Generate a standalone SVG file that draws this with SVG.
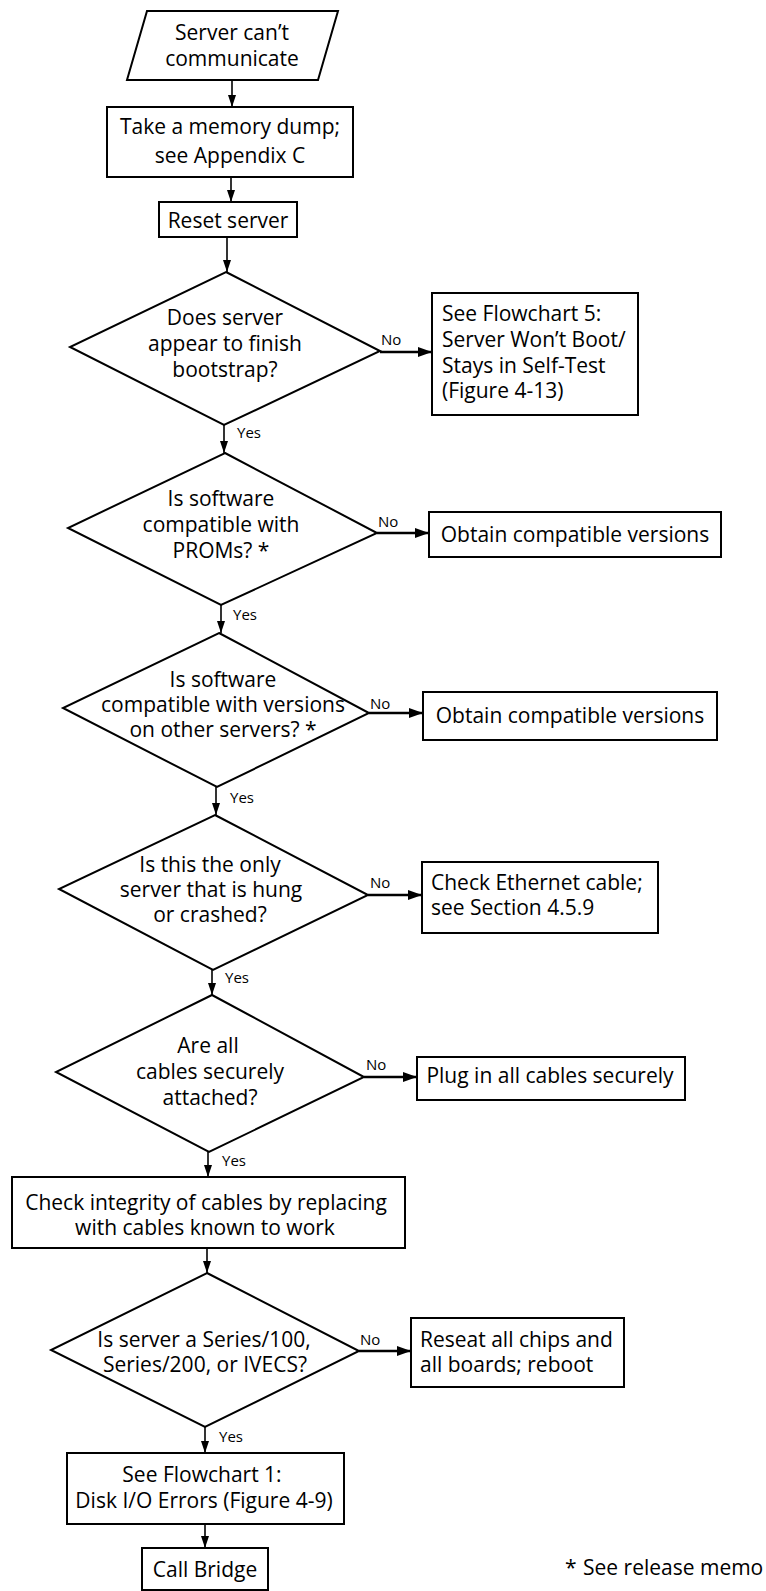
<svg xmlns="http://www.w3.org/2000/svg" width="766" height="1591" viewBox="0 0 766 1591">
<defs>
<marker id="ah" markerUnits="userSpaceOnUse" markerWidth="13" markerHeight="9" refX="12" refY="4" orient="auto"><path d="M0,0 L12,4 L0,8 z" fill="#000"/></marker>
<marker id="ahb" markerUnits="userSpaceOnUse" markerWidth="15" markerHeight="11" refX="14" refY="5" orient="auto"><path d="M0,0 L14,5 L0,10 z" fill="#000"/></marker>
<style>
.s{fill:#fff;stroke:#000;stroke-width:2}
.t{font-family:"Open Sans","DejaVu Sans",sans-serif;font-size:21px;fill:#000}
.c{text-anchor:middle}
.l{font-family:"Open Sans","DejaVu Sans",sans-serif;font-size:15px;fill:#000}
.v{stroke:#000;stroke-width:1.6;fill:none;marker-end:url(#ah)}
.h{stroke:#000;stroke-width:2.6;fill:none;marker-end:url(#ahb)}
</style>
</defs>
<rect width="766" height="1591" fill="#fff"/>
<g id="connectors">
<line class="v" x1="232" y1="80" x2="232" y2="107"/>
<line class="v" x1="231" y1="177" x2="231" y2="202"/>
<line class="v" x1="227" y1="237" x2="227" y2="272"/>
<line class="h" x1="380" y1="352" x2="432" y2="352"/>
<line class="v" x1="224" y1="425" x2="224" y2="453"/>
<line class="h" x1="377" y1="533" x2="429" y2="533"/>
<line class="v" x1="221" y1="605" x2="221" y2="633"/>
<line class="h" x1="369" y1="713" x2="423" y2="713"/>
<line class="v" x1="216" y1="787" x2="216" y2="815"/>
<line class="h" x1="368" y1="895" x2="422" y2="895"/>
<line class="v" x1="212" y1="970" x2="212" y2="995"/>
<line class="h" x1="364" y1="1077" x2="417" y2="1077"/>
<line class="v" x1="208" y1="1152" x2="208" y2="1177"/>
<line class="v" x1="207" y1="1248" x2="207" y2="1273"/>
<line class="h" x1="359" y1="1351" x2="411" y2="1351"/>
<line class="v" x1="205" y1="1427" x2="205" y2="1453"/>
<line class="v" x1="205" y1="1524" x2="205" y2="1548"/>
<text class="l" x="381" y="345">No</text>
<text class="l" x="237" y="438">Yes</text>
<text class="l" x="378" y="527">No</text>
<text class="l" x="233" y="620">Yes</text>
<text class="l" x="370" y="709">No</text>
<text class="l" x="230" y="803">Yes</text>
<text class="l" x="370" y="888">No</text>
<text class="l" x="225" y="983">Yes</text>
<text class="l" x="366" y="1070">No</text>
<text class="l" x="222" y="1166">Yes</text>
<text class="l" x="360" y="1345">No</text>
<text class="l" x="219" y="1442">Yes</text>
</g>
<g id="start">
<polygon class="s" points="147,11 338,11 318,80 127,80"/>
<text class="t c" x="232" y="40">Server can’t</text>
<text class="t c" x="232" y="66">communicate</text>
</g>
<g id="dump">
<rect class="s" x="107" y="107" width="246" height="70"/>
<text class="t c" x="230" y="134">Take a memory dump;</text>
<text class="t c" x="230" y="163">see Appendix C</text>
</g>
<g id="reset">
<rect class="s" x="159" y="202" width="138" height="35"/>
<text class="t c" x="228" y="228">Reset server</text>
</g>
<g id="q-bootstrap">
<polygon class="s" points="226,272 380,351 224,425 70,347"/>
<text class="t c" x="225" y="325">Does server</text>
<text class="t c" x="225" y="351">appear to finish</text>
<text class="t c" x="225" y="377">bootstrap?</text>
</g>
<g id="flowchart5">
<rect class="s" x="432" y="293" width="206" height="122"/>
<text class="t" x="442" y="321">See Flowchart  5:</text>
<text class="t" x="442" y="347">Server Won’t Boot/</text>
<text class="t" x="442" y="373">Stays in Self-Test</text>
<text class="t" x="442" y="398">(Figure 4-13)</text>
</g>
<g id="q-proms">
<polygon class="s" points="225,453 377,533 221,605 68,528"/>
<text class="t c" x="221" y="506">Is software</text>
<text class="t c" x="221" y="532">compatible with</text>
<text class="t c" x="221" y="558">PROMs? *</text>
</g>
<g id="obtain1">
<rect class="s" x="429" y="512" width="292" height="45"/>
<text class="t c" x="575" y="542">Obtain compatible versions</text>
</g>
<g id="q-versions">
<polygon class="s" points="219,633 369,713 217,787 63,708"/>
<text class="t c" x="223" y="687">Is software</text>
<text class="t c" x="223" y="712">compatible with versions</text>
<text class="t c" x="223" y="737">on  other servers? *</text>
</g>
<g id="obtain2">
<rect class="s" x="423" y="692" width="294" height="48"/>
<text class="t c" x="570" y="723">Obtain compatible versions</text>
</g>
<g id="q-hung">
<polygon class="s" points="215,815 368,895 213,970 59,889"/>
<text class="t c" x="210" y="872">Is this the only</text>
<text class="t c" x="211" y="897">server that is hung</text>
<text class="t c" x="210" y="922">or crashed?</text>
</g>
<g id="ethernet">
<rect class="s" x="422" y="862" width="236" height="71"/>
<text class="t" x="431" y="890">Check Ethernet cable;</text>
<text class="t" x="431" y="915">see Section 4.5.9</text>
</g>
<g id="q-cables">
<polygon class="s" points="212,995 364,1077 209,1152 56,1072"/>
<text class="t c" x="208" y="1053">Are all</text>
<text class="t c" x="210" y="1079">cables securely</text>
<text class="t c" x="210" y="1105">attached?</text>
</g>
<g id="plug">
<rect class="s" x="417" y="1057" width="268" height="43"/>
<text class="t c" x="550" y="1083">Plug in all cables securely</text>
</g>
<g id="integrity">
<rect class="s" x="12" y="1177" width="393" height="71"/>
<text class="t c" x="206" y="1210">Check integrity of cables by replacing</text>
<text class="t c" x="205" y="1235">with cables known to work</text>
</g>
<g id="q-series">
<polygon class="s" points="207,1273 359,1351 205,1427 51,1350"/>
<text class="t c" x="204" y="1347">Is server a Series/100,</text>
<text class="t c" x="205" y="1372">Series/200, or IVECS?</text>
</g>
<g id="reseat">
<rect class="s" x="411" y="1318" width="213" height="69"/>
<text class="t" x="420" y="1347">Reseat all chips and</text>
<text class="t" x="420" y="1372">all boards; reboot</text>
</g>
<g id="flowchart1">
<rect class="s" x="67" y="1453" width="277" height="71"/>
<text class="t c" x="202" y="1482">See Flowchart  1:</text>
<text class="t c" x="204" y="1508">Disk I/O Errors (Figure 4-9)</text>
</g>
<g id="bridge">
<rect class="s" x="142" y="1548" width="126" height="42"/>
<text class="t c" x="205" y="1577">Call Bridge</text>
</g>
<g id="footnote">
<text class="t" x="565" y="1575">*</text>
<text class="t" x="583" y="1575">See release memo</text>
</g>
</svg>
